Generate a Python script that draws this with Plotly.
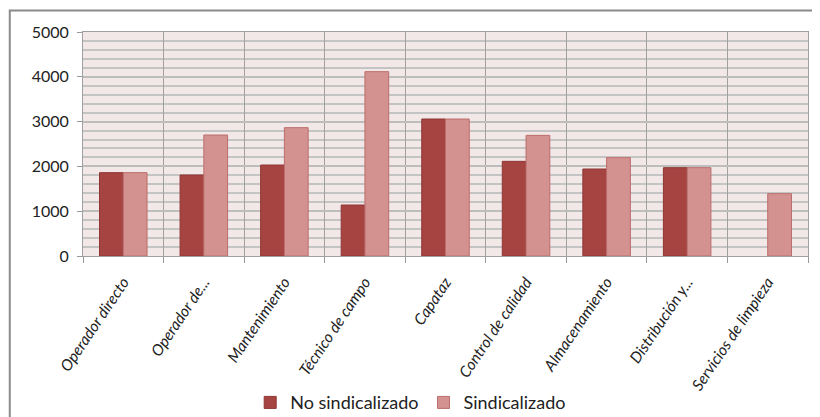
import plotly.graph_objects as go

categories = ["Operador directo", "Operador de...", "Mantenimiento", "Técnico de campo",
              "Capataz", "Control de calidad", "Almacenamiento", "Distribución y...",
              "Servicios de limpieza"]
no_sind = [1860, 1808, 2031, 1138, 3058, 2113, 1942, 1972, None]
sind = [1860, 2701, 2865, 4115, 3058, 2693, 2195, 1972, 1391]
y_ticks = [0, 1000, 2000, 3000, 4000, 5000]

FONT = "Lato, Open Sans, sans-serif"

fig = go.Figure()
fig.add_trace(go.Bar(x=categories, y=no_sind, name="No sindicalizado",
                     marker=dict(color="#A64442", line=dict(color="#8E3634", width=1))))
fig.add_trace(go.Bar(x=categories, y=sind, name="Sindicalizado",
                     marker=dict(color="#D39190", line=dict(color="#BC6E6C", width=1))))

fig.update_layout(
    width=820, height=417,
    margin=dict(l=75, r=20, t=24, b=169, autoexpand=False),
    paper_bgcolor="white", plot_bgcolor="#F3E8E8",
    barmode="group", bargap=0.41, bargroupgap=0,
    font=dict(family=FONT, color="#222", size=15),
    legend=dict(orientation="h", x=0.452, xanchor="center", y=-0.655, yanchor="middle",
                font=dict(size=18, family=FONT), traceorder="normal",
                itemwidth=30, tracegroupgap=0),
    shapes=[dict(type="rect", xref="paper", yref="paper", x0=-0.101, x1=1.05,
                 y0=-1.0, y1=1.096, line=dict(color="#8A8A8A", width=2), layer="below")],
)
fig.update_xaxes(
    automargin=False,
    tickmode="array", tickvals=categories,
    ticktext=["<i>" + c + "</i>" for c in categories],
    tickangle=-56, tickson="boundaries", ticks="outside", ticklen=6, tickcolor="#999",
    ticklabelstandoff=10,
    showgrid=True, gridcolor="#A0A0A0", gridwidth=1,
    showline=True, linecolor="#A0A0A0", mirror=True,
    tickfont=dict(size=15.5, family=FONT),
)
fig.update_yaxes(
    automargin=False,
    range=[0, 5000], tickvals=y_ticks, ticks="outside", ticklen=5, tickcolor="#999",
    ticklabelstandoff=5,
    showgrid=True, gridcolor="#BDBDBD", gridwidth=1.5,
    minor=dict(dtick=200, showgrid=True, gridcolor="#C4C4C4", gridwidth=1.5),
    showline=True, linecolor="#A0A0A0", mirror=True, zeroline=False,
    tickfont=dict(size=16, family=FONT),
)

fig.write_html("out.html")
